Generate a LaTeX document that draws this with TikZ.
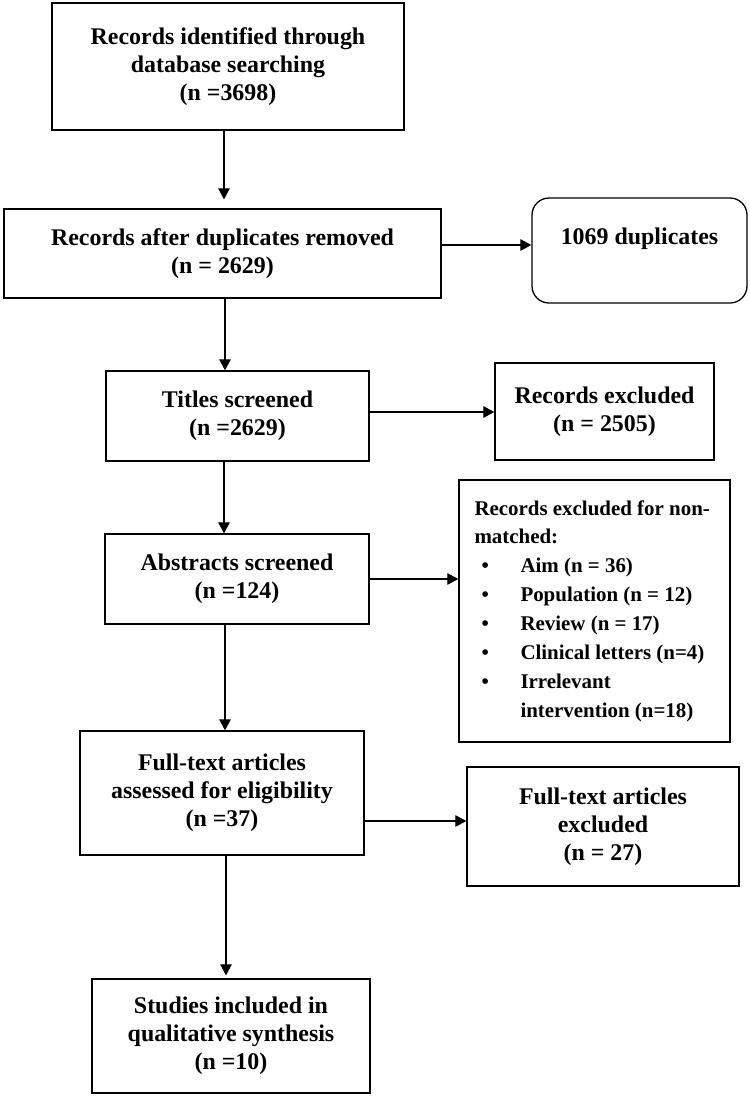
\documentclass[tikz,border=0pt]{standalone}
\usepackage{fontspec}
\setmainfont{Liberation Serif}
\usetikzlibrary{arrows.meta}
\tikzset{
  box/.style={draw=black, line width=1.3bp, inner sep=0pt, align=center,
    font=\bfseries\fontsize{24}{28}\selectfont},
  listbox/.style={draw=black, line width=1.3bp, inner sep=0pt, align=left,
    font=\bfseries\fontsize{21}{29}\selectfont},
  arr/.style={draw=black, line width=1.1bp, -{Triangle[length=11bp,width=11.5bp]}},
}
\newcommand{\bitem}[1]{\makebox[46bp][l]{\hspace{7bp}\textbullet}#1}
\begin{document}
\begin{tikzpicture}[x=1bp,y=-1bp]
\useasboundingbox (0,0) rectangle (750,1096);
\fill[white] (0,0) rectangle (750,1096);

\node[box, minimum width=352bp, minimum height=127bp] (b1) at (228,66.5)
  {Records identified through\\database searching\\(n =3698)};
\node[box, minimum width=437bp, minimum height=89bp] (b2) at (222.5,253.5)
  {Records after duplicates removed\\(n = 2629)};
\node[box, rounded corners=17bp, minimum width=215bp, minimum height=105bp] (dup) at (639.5,250.5)
  {1069 duplicates\\\mbox{}};
\node[box, minimum width=263bp, minimum height=90bp] (b3) at (237.5,416)
  {Titles screened\\(n =2629)};
\node[box, minimum width=219bp, minimum height=97bp] (ex1) at (604.5,411.5)
  {Records excluded\\(n = 2505)};
\node[box, minimum width=264bp, minimum height=90bp] (b4) at (237,579)
  {Abstracts screened\\(n =124)};
\node[listbox, minimum width=271bp, minimum height=262bp] (ex2) at (594.5,611)
  {\makebox[240bp][l]{Records excluded for non-}\\
   matched:\\
   \bitem{Aim (n = 36)}\\
   \bitem{Population (n = 12)}\\
   \bitem{Review (n = 17)}\\
   \bitem{Clinical letters (n=4)}\\
   \bitem{Irrelevant}\\
   \hspace{46bp}intervention (n=18)};
\node[box, minimum width=284bp, minimum height=124bp] (b5) at (222,793)
  {Full-text articles\\assessed for eligibility\\(n =37)};
\node[box, minimum width=272bp, minimum height=119bp] (ex3) at (603,826.5)
  {Full-text articles\\excluded\\(n = 27)};
\node[box, minimum width=278bp, minimum height=114bp] (b6) at (231,1036)
  {Studies included in\\qualitative synthesis\\(n =10)};

\draw[arr, shorten >=9bp] (b1.south -| 224,0) -- (b2.north -| 224,0);
\draw[arr] (b2.south -| 225,0) -- (b3.north -| 225,0);
\draw[arr] (b3.south -| 224,0) -- (b4.north -| 224,0);
\draw[arr] (b4.south -| 225,0) -- (b5.north -| 225,0);
\draw[arr, shorten >=3bp] (b5.south -| 226,0) -- (b6.north -| 226,0);

\draw[arr] (b2.east |- 0,245) -- (dup.west |- 0,245);
\draw[arr] (b3.east |- 0,412) -- (ex1.west |- 0,412);
\draw[arr] (b4.east |- 0,579) -- (ex2.west |- 0,579);
\draw[arr] (b5.east |- 0,821) -- (ex3.west |- 0,821);
\end{tikzpicture}
\end{document}
